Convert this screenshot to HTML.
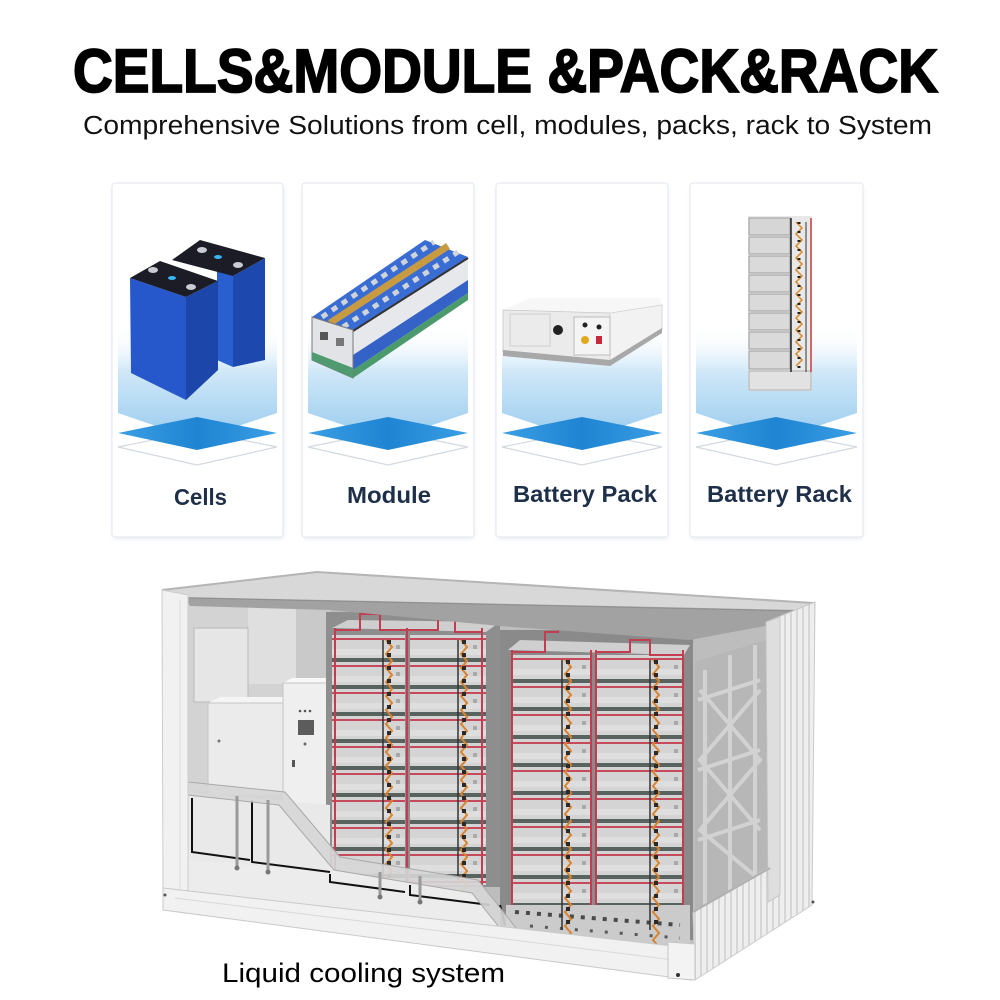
<!DOCTYPE html>
<html><head><meta charset="utf-8"><style>
html,body{margin:0;padding:0;background:#fff;}
svg{display:block;}
</style></head><body>
<svg width="1000" height="1000" viewBox="0 0 1000 1000" xmlns="http://www.w3.org/2000/svg" font-family="'Liberation Sans', Arial, sans-serif">
<defs>
<linearGradient id="bg" x1="0" y1="0" x2="0" y2="1">
<stop offset="0" stop-color="#ffffff" stop-opacity="0"/>
<stop offset="0.4" stop-color="#d0e8f8"/>
<stop offset="1" stop-color="#98cbee"/>
</linearGradient>
<linearGradient id="dia" x1="0" y1="0" x2="1" y2="0">
<stop offset="0" stop-color="#3a9fe4"/>
<stop offset="0.5" stop-color="#1f84d2"/>
<stop offset="1" stop-color="#3a9fe4"/>
</linearGradient>
<pattern id="rowsA" x="0" y="635" width="400" height="27" patternUnits="userSpaceOnUse">
<rect x="0" y="0" width="400" height="27" fill="#d4d4d4"/>
<rect x="0" y="23" width="400" height="4" fill="#58625e"/>
<rect x="0" y="3" width="400" height="2" fill="#c54a5c"/>
<rect x="0" y="14" width="400" height="6" fill="#dedede"/>
</pattern>
<pattern id="rowsB" x="0" y="655" width="400" height="28" patternUnits="userSpaceOnUse">
<rect x="0" y="0" width="400" height="28" fill="#d4d4d4"/>
<rect x="0" y="24" width="400" height="4" fill="#58625e"/>
<rect x="0" y="3" width="400" height="2" fill="#c54a5c"/>
<rect x="0" y="14" width="400" height="6" fill="#dedede"/>
</pattern>
<pattern id="corr" x="0" y="0" width="6" height="10" patternUnits="userSpaceOnUse">
<rect width="6" height="10" fill="#eeeeee"/>
<rect x="4" width="2" height="10" fill="#d6d6d6"/>
</pattern>
<filter id="sh" x="-10%" y="-10%" width="120%" height="120%">
<feGaussianBlur stdDeviation="2"/>
</filter>
</defs>

<!-- Title -->
<text x="73" y="92" font-size="61" font-weight="bold" fill="#000" stroke="#000" stroke-width="1.8" textLength="865" lengthAdjust="spacingAndGlyphs">CELLS&amp;MODULE &amp;PACK&amp;RACK</text>
<text x="83" y="134" font-size="25.5" fill="#111" textLength="849" lengthAdjust="spacingAndGlyphs">Comprehensive Solutions from cell, modules, packs, rack to System</text>

<!-- Cards -->
<g>
<rect x="113" y="185" width="171" height="354" rx="3" fill="#e9ecf2" filter="url(#sh)"/>
<rect x="112" y="183" width="171" height="354" rx="3" fill="#fff" stroke="#e2e6ee"/>
<rect x="303" y="185" width="171" height="354" rx="3" fill="#e9ecf2" filter="url(#sh)"/>
<rect x="302" y="183" width="172" height="354" rx="3" fill="#fff" stroke="#e2e6ee"/>
<rect x="497" y="185" width="171" height="354" rx="3" fill="#e9ecf2" filter="url(#sh)"/>
<rect x="496" y="183" width="172" height="354" rx="3" fill="#fff" stroke="#e2e6ee"/>
<rect x="691" y="185" width="172" height="354" rx="3" fill="#e9ecf2" filter="url(#sh)"/>
<rect x="690" y="183" width="173" height="354" rx="3" fill="#fff" stroke="#e2e6ee"/>
</g>

<!-- gradients + diamonds -->
<g>
<polygon points="118,325 277,325 277,413 197,440 118,413" fill="url(#bg)"/>
<polygon points="118,447 197,431 277,447 197,465" fill="#fff" stroke="#d3d9e0" stroke-width="1.2"/>
<polygon points="118,433 197,417 277,433 197,450" fill="url(#dia)"/>

<polygon points="308,325 468,325 468,413 388,440 308,413" fill="url(#bg)"/>
<polygon points="308,447 388,431 468,447 388,465" fill="#fff" stroke="#d3d9e0" stroke-width="1.2"/>
<polygon points="308,433 388,417 468,433 388,450" fill="url(#dia)"/>

<polygon points="502,325 662,325 662,413 582,440 502,413" fill="url(#bg)"/>
<polygon points="502,447 582,431 662,447 582,465" fill="#fff" stroke="#d3d9e0" stroke-width="1.2"/>
<polygon points="502,433 582,417 662,433 582,450" fill="url(#dia)"/>

<polygon points="696,325 857,325 857,413 776,440 696,413" fill="url(#bg)"/>
<polygon points="696,447 776,431 857,447 776,465" fill="#fff" stroke="#d3d9e0" stroke-width="1.2"/>
<polygon points="696,433 776,417 857,433 776,450" fill="url(#dia)"/>
</g>

<!-- Cells product -->
<g>
<polygon points="217,268 233,276 233,367 217,360" fill="#2a5fd0"/>
<polygon points="233,276 265,258 265,360 233,367" fill="#1d48ad"/>
<polygon points="172,260 200,240 265,258 233,276" fill="#1b1c26"/>
<ellipse cx="202" cy="250" rx="5" ry="3" fill="#c9ccd2"/>
<ellipse cx="238" cy="265" rx="5" ry="3" fill="#c9ccd2"/>
<ellipse cx="218" cy="257" rx="4" ry="2" fill="#3bb3ef"/>
<polygon points="130,278 186,297 186,400 131,373" fill="#2658cc"/>
<polygon points="186,297 218,281 218,370 186,400" fill="#1c46a9"/>
<polygon points="130,278 160,261 218,281 186,297" fill="#1b1c26"/>
<ellipse cx="153" cy="270" rx="5" ry="3" fill="#c9ccd2"/>
<ellipse cx="191" cy="287" rx="5" ry="3" fill="#c9ccd2"/>
<ellipse cx="172" cy="278" rx="4" ry="2" fill="#3bb3ef"/>
</g>

<!-- Module product -->
<g>
<polygon points="312,317 425,240 468,257 353,330" fill="#3a6dd4"/>
<line x1="322" y1="317" x2="434" y2="242" stroke="#cfd4da" stroke-width="5" stroke-dasharray="6 6"/>
<line x1="343" y1="327" x2="458" y2="252" stroke="#cfd4da" stroke-width="5" stroke-dasharray="6 6"/>
<line x1="330" y1="323" x2="448" y2="246" stroke="#c89a42" stroke-width="7"/>
<polygon points="353,331 468,258 468,280 353,355" fill="#e6e8ec"/>
<line x1="353" y1="331" x2="468" y2="258" stroke="#333" stroke-width="2"/>
<polygon points="353,355 468,280 468,293 353,370" fill="#3562c6"/>
<polygon points="353,370 468,293 468,300 353,378" fill="#4a9a6c"/>
<polygon points="312,317 353,330 353,378 312,360" fill="#e1e3e6" stroke="#7a7a7a" stroke-width="1"/>
<polygon points="312,352 353,368 353,378 312,360" fill="#4f9a6e"/>
<rect x="320" y="332" width="8" height="8" fill="#555"/>
<rect x="336" y="338" width="8" height="8" fill="#777"/>
</g>

<!-- Battery pack product -->
<g>
<polygon points="503,310 530,298 660,298 662,305 610,313" fill="#f7f7f7"/>
<polygon points="503,310 610,313 610,362 503,352" fill="#ebebeb" stroke="#c8c8c8" stroke-width="0.8"/>
<polygon points="610,313 662,305 662,330 610,362" fill="#f2f2f2" stroke="#d0d0d0" stroke-width="0.8"/>
<polygon points="503,350 610,360 662,328 662,333 610,366 503,356" fill="#a8a8a8"/>
<rect x="510" y="314" width="40" height="32" fill="none" stroke="#cfcfcf"/>
<circle cx="558" cy="330" r="5" fill="#222"/>
<rect x="574" y="317" width="36" height="38" fill="#f4f4f4" stroke="#bdbdbd"/>
<circle cx="585" cy="325" r="2.5" fill="#222"/>
<circle cx="599" cy="327" r="2.5" fill="#222"/>
<circle cx="585" cy="340" r="4" fill="#e0a91c"/>
<rect x="596" y="336" width="6" height="8" fill="#c8283a"/>
</g>

<!-- Battery rack product -->
<g>
<rect x="748" y="216" width="64" height="175" fill="#e8e8e8"/>
<rect x="749" y="218" width="41" height="17" fill="#d6d6d6" stroke="#8f8f8f" stroke-width="0.8"/>
<rect x="749" y="237" width="41" height="17" fill="#dadada" stroke="#8f8f8f" stroke-width="0.8"/>
<rect x="749" y="256" width="41" height="17" fill="#dadada" stroke="#8f8f8f" stroke-width="0.8"/>
<rect x="749" y="275" width="41" height="17" fill="#dadada" stroke="#8f8f8f" stroke-width="0.8"/>
<rect x="749" y="294" width="41" height="17" fill="#dadada" stroke="#8f8f8f" stroke-width="0.8"/>
<rect x="749" y="313" width="41" height="17" fill="#dadada" stroke="#8f8f8f" stroke-width="0.8"/>
<rect x="749" y="332" width="41" height="17" fill="#dadada" stroke="#8f8f8f" stroke-width="0.8"/>
<rect x="749" y="351" width="41" height="18" fill="#dadada" stroke="#8f8f8f" stroke-width="0.8"/>
<rect x="749" y="371" width="62" height="19" fill="#e2e2e2" stroke="#a0a0a0" stroke-width="0.8"/>
<line x1="791" y1="218" x2="791" y2="372" stroke="#222" stroke-width="1.5"/>
<line x1="806" y1="222" x2="806" y2="372" stroke="#333" stroke-width="1"/>
<line x1="811" y1="218" x2="811" y2="372" stroke="#cc3b3b" stroke-width="1.5"/>
<path d="M796 222 l6 6-6 6 6 6-6 6 6 6-6 6 6 6-6 6 6 6-6 6 6 6-6 6 6 6-6 6 6 6-6 6 6 6-6 6 6 6-6 6 6 6-6 6 6 6-6 6" fill="none" stroke="#d88a2a" stroke-width="1.5"/>
<line x1="799" y1="222" x2="799" y2="372" stroke="#222" stroke-width="3" stroke-dasharray="2 7"/>
</g>

<!-- Card labels -->
<g font-weight="bold" fill="#1e3049" font-size="23">
<text x="174" y="505" textLength="53" lengthAdjust="spacingAndGlyphs">Cells</text>
<text x="347" y="503" textLength="84" lengthAdjust="spacingAndGlyphs">Module</text>
<text x="513" y="502" textLength="144" lengthAdjust="spacingAndGlyphs">Battery Pack</text>
<text x="707" y="502" textLength="145" lengthAdjust="spacingAndGlyphs">Battery Rack</text>
</g>

<!-- Container -->
<g>
<polygon points="162,590 317,572 813,603 812,905 695,980 163,910" fill="#e4e4e4"/>
<polygon points="188,600 780,622 770,900 690,948 188,885" fill="#bdbdbd"/>
<!-- left wall -->
<polygon points="188,603 330,610 330,800 188,790" fill="#d3d3d3"/>
<rect x="248" y="606" width="48" height="78" fill="#dfdfdf"/>
<rect x="296" y="608" width="34" height="80" fill="#c9c9c9"/>
<rect x="194" y="628" width="54" height="74" fill="#e6e6e6" stroke="#b8b8b8"/>
<polygon points="208,703 220,697 290,697 283,703" fill="#f5f5f5"/>
<rect x="208" y="703" width="75" height="92" fill="#ebebeb" stroke="#c4c4c4"/>
<circle cx="219" cy="741" r="1.5" fill="#777"/>
<polygon points="283,683 292,678 333,678 327,683" fill="#f7f7f7"/>
<rect x="283" y="683" width="44" height="160" fill="#efefef" stroke="#c6c6c6"/>
<rect x="298" y="720" width="16" height="15" fill="#5c5c5c"/>
<circle cx="300" cy="711" r="1.3" fill="#555"/>
<circle cx="305" cy="711" r="1.3" fill="#555"/>
<circle cx="310" cy="711" r="1.3" fill="#555"/>
<circle cx="305" cy="744" r="1.5" fill="#666"/>
<rect x="292" y="760" width="3" height="7" fill="#555"/>

<!-- rack group 1 -->
<rect x="326" y="612" width="174" height="275" fill="#8e8e8e"/>
<rect x="332" y="635" width="73" height="250" fill="url(#rowsA)"/>
<rect x="410" y="635" width="76" height="250" fill="url(#rowsA)"/>
<polygon points="332,628 348,620 500,622 486,632" fill="#cfcfcf"/>
<line x1="335" y1="628" x2="335" y2="885" stroke="#c23d4f" stroke-width="2"/>
<line x1="407" y1="628" x2="407" y2="885" stroke="#c23d4f" stroke-width="2"/>
<line x1="482" y1="628" x2="482" y2="885" stroke="#c23d4f" stroke-width="2"/>
<polyline points="335,630 360,630 360,614 380,614 380,630 407,630 438,630 438,618 455,618 455,632 482,632" fill="none" stroke="#c23d4f" stroke-width="2"/>
<ellipse cx="380" cy="606" rx="14" ry="4" fill="#ececec"/>
<ellipse cx="452" cy="612" rx="14" ry="4" fill="#ececec"/>
<line x1="383" y1="640" x2="383" y2="880" stroke="#333" stroke-width="1.5"/>
<line x1="458" y1="640" x2="458" y2="880" stroke="#333" stroke-width="1.5"/>
<path d="M386 640 l6 7-6 7 6 7-6 7 6 7-6 7 6 7-6 7 6 7-6 7 6 7-6 7 6 7-6 7 6 7-6 7 6 7-6 7 6 7-6 7 6 7-6 7 6 7-6 7 6 7-6 7 6 7-6 7 6 7-6 7 6 7-6 7 6 7-6 7 6 7-6 7" fill="none" stroke="#d9832f" stroke-width="2"/>
<path d="M461 640 l6 7-6 7 6 7-6 7 6 7-6 7 6 7-6 7 6 7-6 7 6 7-6 7 6 7-6 7 6 7-6 7 6 7-6 7 6 7-6 7 6 7-6 7 6 7-6 7 6 7-6 7 6 7-6 7 6 7-6 7 6 7-6 7 6 7-6 7 6 7-6 7" fill="none" stroke="#d9832f" stroke-width="2"/>
<line x1="389" y1="640" x2="389" y2="880" stroke="#2a2a2a" stroke-width="4" stroke-dasharray="4 9"/>
<line x1="464" y1="640" x2="464" y2="880" stroke="#2a2a2a" stroke-width="4" stroke-dasharray="4 9"/>
<line x1="398" y1="645" x2="398" y2="880" stroke="#a9a9a9" stroke-width="4" stroke-dasharray="4 23"/>
<line x1="475" y1="645" x2="475" y2="880" stroke="#a9a9a9" stroke-width="4" stroke-dasharray="4 23"/>

<!-- rack group 2 -->
<rect x="500" y="630" width="193" height="310" fill="#8a8a8a"/>
<rect x="512" y="655" width="79" height="250" fill="url(#rowsB)"/>
<rect x="596" y="655" width="88" height="250" fill="url(#rowsB)"/>
<polygon points="508,650 520,640 690,645 684,655" fill="#cfcfcf"/>
<polygon points="506,905 690,905 690,948 506,938" fill="#cbcbcb"/>
<line x1="515" y1="912" x2="680" y2="925" stroke="#4a4a4a" stroke-width="4" stroke-dasharray="4 7"/>
<line x1="530" y1="926" x2="680" y2="938" stroke="#5a5a5a" stroke-width="3" stroke-dasharray="3 12"/>
<line x1="512" y1="650" x2="512" y2="905" stroke="#c23d4f" stroke-width="2"/>
<line x1="591" y1="650" x2="591" y2="905" stroke="#c23d4f" stroke-width="2"/>
<line x1="596" y1="650" x2="596" y2="905" stroke="#c23d4f" stroke-width="2"/>
<line x1="683" y1="650" x2="683" y2="905" stroke="#c23d4f" stroke-width="2"/>
<polyline points="512,652 545,652 545,632 558,632 558,620 M558,632 570,632 570,652 591,652" fill="none" stroke="#c23d4f" stroke-width="2"/>
<polyline points="596,652 630,652 630,640 650,640 650,655 683,655" fill="none" stroke="#c23d4f" stroke-width="2"/>
<ellipse cx="558" cy="622" rx="15" ry="4" fill="#ececec"/>
<ellipse cx="647" cy="629" rx="15" ry="4" fill="#ececec"/>
<line x1="562" y1="660" x2="562" y2="930" stroke="#333" stroke-width="1.5"/>
<line x1="650" y1="660" x2="650" y2="930" stroke="#333" stroke-width="1.5"/>
<path d="M565 660 l6 7-6 7 6 7-6 7 6 7-6 7 6 7-6 7 6 7-6 7 6 7-6 7 6 7-6 7 6 7-6 7 6 7-6 7 6 7-6 7 6 7-6 7 6 7-6 7 6 7-6 7 6 7-6 7 6 7-6 7 6 7-6 7 6 7-6 7 6 7-6 7 6 7-6 7 6 7-6 7 6 7-6 7" fill="none" stroke="#d9832f" stroke-width="2"/>
<path d="M653 660 l6 7-6 7 6 7-6 7 6 7-6 7 6 7-6 7 6 7-6 7 6 7-6 7 6 7-6 7 6 7-6 7 6 7-6 7 6 7-6 7 6 7-6 7 6 7-6 7 6 7-6 7 6 7-6 7 6 7-6 7 6 7-6 7 6 7-6 7 6 7-6 7 6 7-6 7 6 7-6 7 6 7-6 7" fill="none" stroke="#d9832f" stroke-width="2"/>
<line x1="568" y1="660" x2="568" y2="930" stroke="#2a2a2a" stroke-width="4" stroke-dasharray="4 9"/>
<line x1="656" y1="660" x2="656" y2="930" stroke="#2a2a2a" stroke-width="4" stroke-dasharray="4 9"/>
<line x1="584" y1="665" x2="584" y2="905" stroke="#a9a9a9" stroke-width="4" stroke-dasharray="4 24"/>
<line x1="676" y1="665" x2="676" y2="905" stroke="#a9a9a9" stroke-width="4" stroke-dasharray="4 24"/>

<!-- ceiling -->
<polygon points="162,590 317,572 813,603 800,610 190,597" fill="#d8d8d8"/>
<polygon points="185,597 800,610 775,624 690,640 500,626 330,610 190,606" fill="#a2a2a2"/>
<polyline points="162,590 317,572 813,603" fill="none" stroke="#b5b5b5" stroke-width="2"/>
<line x1="190" y1="598" x2="800" y2="611" stroke="#8f8f8f" stroke-width="1"/>

<!-- right end wall -->
<polygon points="695,662 766,640 768,868 695,912" fill="#b7b7b7"/>
<g stroke="#d2d2d2" stroke-width="4" fill="none">
<line x1="705" y1="670" x2="705" y2="905"/>
<line x1="730" y1="655" x2="730" y2="890"/>
<line x1="755" y1="645" x2="755" y2="875"/>
<polyline points="698,700 760,680"/>
<polyline points="698,770 760,750"/>
<polyline points="698,840 760,820"/>
<polyline points="700,690 760,760 700,830 760,880"/>
<polyline points="760,690 700,760 760,830"/>
</g>
<polygon points="766,622 815,602 812,905 695,980 693,912 768,868" fill="url(#corr)" stroke="#cacaca"/>
<polygon points="766,622 780,617 780,895 768,902" fill="#dedede" stroke="#c2c2c2" stroke-width="0.8"/>
<line x1="693" y1="912" x2="770" y2="868" stroke="#b0b0b0" stroke-width="2"/>

<!-- lower floor area (light) -->
<polygon points="188,792 279,805 334,870 472,893 514,946 690,960 690,948 163,888 188,860" fill="#ececec"/>
<polygon points="188,792 330,805 330,872 188,860" fill="#e9e9e9"/>
<g stroke="#111" stroke-width="2" fill="none">
<polyline points="192,798 192,852 250,860"/>
<polyline points="252,800 252,862 330,872"/>
<polyline points="330,874 330,882 405,892"/>
<polyline points="410,885 410,895 490,905"/>
<polyline points="500,905 505,925"/>
</g>
<!-- pipe cover -->
<polygon points="188,782 285,792 340,857 478,880 520,933 690,948 690,960 514,946 472,893 334,870 279,805 188,795" fill="#d6d6d6" fill-opacity="0.9" stroke="#a9a9a9" stroke-width="1"/>
<g stroke="#9a9a9a" stroke-width="3">
<line x1="237" y1="796" x2="237" y2="866"/>
<line x1="268" y1="800" x2="268" y2="870"/>
<line x1="380" y1="872" x2="380" y2="895"/>
<line x1="420" y1="876" x2="420" y2="900"/>
</g>
<g fill="#777">
<circle cx="237" cy="868" r="2.5"/><circle cx="268" cy="872" r="2.5"/>
<circle cx="380" cy="897" r="2.5"/><circle cx="420" cy="902" r="2.5"/>
</g>
<!-- left post -->
<polygon points="162,590 188,595 188,890 163,906" fill="#f1f1f1" stroke="#cdcdcd"/>
<line x1="180" y1="600" x2="180" y2="890" stroke="#dadada"/>
<!-- bottom beam -->
<polygon points="163,888 690,948 692,980 163,910" fill="#f1f1f1" stroke="#c9c9c9"/>
<line x1="175" y1="898" x2="690" y2="962" stroke="#d8d8d8"/>
<polygon points="668,942 695,944 695,980 668,978" fill="#f3f3f3" stroke="#c6c6c6"/>
<circle cx="678" cy="975" r="2" fill="#333"/>
<circle cx="165" cy="895" r="1.5" fill="#555"/>
<circle cx="813" cy="902" r="1.5" fill="#555"/>
</g>

<!-- caption -->
<text x="222" y="982" font-size="27" fill="#000" textLength="283" lengthAdjust="spacingAndGlyphs">Liquid cooling system</text>
</svg>
</body></html>
